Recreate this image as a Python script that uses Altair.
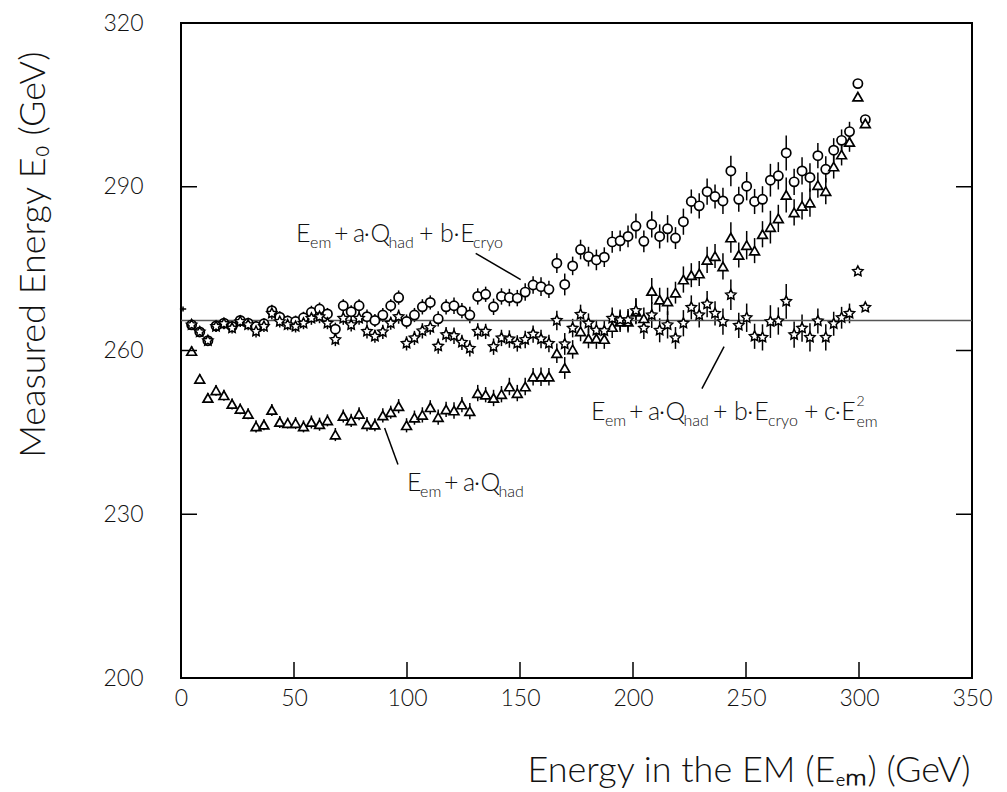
import altair as alt
import pandas as pd

# ---------------- data ----------------
energy = [4.7, 8.3, 11.9, 15.5, 19.0, 22.6, 26.2, 29.7, 33.2, 36.7,
          40.2, 43.7, 47.2, 50.7, 54.2, 57.7, 61.3, 64.8, 68.3, 71.8,
          75.3, 78.8, 82.3, 85.8, 89.3, 92.8, 96.3, 99.8, 103.3, 106.8,
          110.3, 113.8, 117.3, 120.8, 124.3, 127.8, 131.3, 134.8, 138.3, 141.8,
          145.3, 148.8, 152.3, 155.8, 159.3, 162.8, 166.3, 169.8, 173.3, 176.8,
          180.3, 183.8, 187.3, 190.8, 194.3, 197.8, 201.3, 204.8, 208.3, 211.8,
          215.3, 218.8, 222.3, 225.8, 229.3, 232.8, 236.3, 239.8, 243.3, 246.8,
          250.3, 253.8, 257.3, 260.8, 264.3, 267.8, 271.3, 274.8, 278.3, 281.8,
          285.3, 288.8, 292.3, 295.8, 299.5, 302.8]

# E_em + a.Q_had + b.E_cryo  (circles)
e_circle = [264.7, 263.4, 261.8, 264.5, 265.0, 264.4, 265.5, 265.0, 264.4, 264.9,
            267.3, 266.1, 265.4, 265.3, 266.0, 267.0, 267.6, 266.7, 263.9, 268.2,
            267.1, 268.2, 266.2, 265.5, 266.5, 268.2, 269.7, 265.3, 266.5, 268.0,
            268.8, 265.8, 268.0, 268.2, 267.3, 266.5, 269.9, 270.3, 268.0, 269.9,
            269.7, 269.6, 270.7, 272.0, 271.7, 271.2, 276.0, 272.1, 275.5, 278.5,
            277.2, 276.6, 277.1, 279.9, 280.1, 280.9, 282.8, 280.0, 283.1, 280.9,
            282.3, 280.6, 283.6, 287.3, 286.5, 289.1, 288.2, 287.4, 292.9, 287.7,
            290.1, 287.3, 287.7, 291.2, 292.0, 296.2, 290.9, 292.9, 291.7, 295.7,
            293.2, 296.7, 298.5, 300.1, 308.9, 302.3]

# E_em + a.Q_had  (triangles)
e_triangle = [259.9, 254.8, 251.3, 252.7, 251.8, 250.2, 249.3, 248.4, 246.1, 246.4,
              249.1, 246.9, 246.7, 246.7, 246.1, 246.9, 246.5, 247.2, 244.6, 248.0,
              247.2, 248.4, 246.5, 246.4, 248.1, 248.7, 249.8, 246.3, 247.7, 248.2,
              249.6, 247.8, 249.2, 249.0, 250.1, 248.9, 252.2, 251.9, 251.3, 252.0,
              253.4, 252.2, 253.4, 255.2, 255.2, 255.2, 259.5, 256.8, 260.2, 263.5,
              262.2, 262.2, 262.1, 264.3, 265.3, 265.3, 267.1, 265.9, 270.9, 269.3,
              269.0, 270.6, 273.0, 273.8, 274.1, 276.6, 277.3, 275.4, 280.7, 277.5,
              279.3, 278.3, 281.3, 282.6, 284.2, 288.5, 285.3, 286.5, 287.1, 290.3,
              289.2, 293.7, 295.9, 298.2, 306.5, 301.6]

# E_em + a.Q_had + b.E_cryo + c.E_em^2  (stars)
e_star = [264.7, 263.4, 261.8, 264.4, 264.9, 264.1, 265.3, 264.7, 263.5, 264.4,
          266.8, 265.3, 264.7, 264.4, 265.0, 265.9, 266.2, 265.0, 262.0, 265.9,
          264.7, 265.9, 263.5, 262.6, 263.4, 265.0, 266.2, 261.3, 262.3, 263.6,
          264.2, 260.8, 262.9, 262.7, 261.5, 260.4, 263.5, 263.5, 260.7, 262.3,
          262.1, 261.3, 262.0, 263.0, 262.1, 261.3, 265.5, 261.2, 264.1, 266.6,
          265.0, 263.7, 263.6, 265.9, 265.6, 265.6, 267.3, 264.1, 266.5, 263.7,
          264.7, 262.3, 265.0, 267.9, 266.5, 268.5, 266.8, 265.3, 270.2, 264.6,
          266.0, 262.6, 262.4, 265.3, 265.4, 269.0, 262.9, 264.1, 262.4, 265.4,
          262.4, 264.9, 266.0, 266.8, 274.5, 267.9]

# half length of the vertical error bars (GeV)
err = [0.9, 0.9, 0.9, 1.0, 1.0, 1.0, 1.0, 1.0, 1.1, 1.0,
       1.1, 1.1, 1.0, 1.1, 1.1, 1.2, 1.2, 1.1, 1.2, 1.2,
       1.2, 1.2, 1.3, 1.2, 1.3, 1.2, 1.3, 1.3, 1.3, 1.4,
       1.3, 1.4, 1.4, 1.5, 1.4, 1.5, 1.5, 1.4, 1.5, 1.5,
       1.6, 1.5, 1.6, 1.6, 1.7, 1.6, 1.8, 2.0, 1.7, 1.8,
       1.8, 1.9, 1.8, 2.0, 1.9, 2.0, 2.3, 2.0, 2.4, 2.2,
       2.5, 2.0, 2.4, 2.2, 2.3, 2.4, 2.2, 2.4, 2.8, 2.3,
       2.6, 2.3, 2.4, 3.0, 2.5, 3.2, 2.4, 2.5, 2.6, 2.3,
       2.4, 2.2, 2.0, 1.8, 0.3, 0.3]

first_point_x = [0.9]
first_point_y = [267.6]

reference_energy = [265.5]

x_ticks = [0, 50, 100, 150, 200, 250, 300, 350]
y_ticks = [200, 230, 260, 290, 320]

# annotation pieces: text, x (GeV), baseline y (GeV), kind
ann_text = ["E", "em", "+", "a", "·", "Q", "had", "+", "b", "·", "E", "cryo",
            "E", "em", "+", "a", "·", "Q", "had",
            "E", "em", "+", "a", "·", "Q", "had", "+", "b", "·", "E", "cryo",
            "+", "c", "·", "E", "2", "em"]
ann_x = [50.9, 57.1, 67.7, 76.1, 80.9, 83.8, 91.8, 105.3, 114.6, 120.6, 123.6, 129.2,
         100.0, 105.8, 116.4, 124.8, 129.6, 132.5, 140.5,
         181.4, 187.6, 198.2, 206.6, 211.5, 214.4, 222.3, 235.4, 244.7, 250.6, 253.7, 259.7,
         275.7, 284.5, 289.3, 292.2, 298.9, 298.9]
ann_y = [279.9, 278.8, 279.9, 279.9, 279.9, 279.9, 278.8, 279.9, 279.9, 279.9, 279.9, 278.8,
         234.2, 233.1, 234.2, 234.2, 234.2, 234.2, 233.1,
         247.2, 246.1, 247.2, 247.2, 247.2, 247.2, 246.1, 247.2, 247.2, 247.2, 247.2, 246.1,
         247.2, 247.2, 247.2, 247.2, 249.8, 246.0]
ann_kind = ["main", "sub", "main", "main", "main", "main", "sub", "main", "main", "main", "main", "sub",
            "main", "sub", "main", "main", "main", "main", "sub",
            "main", "sub", "main", "main", "main", "main", "sub", "main", "main", "main", "main", "sub",
            "main", "main", "main", "main", "sup", "sub"]

# leader lines (GeV)
lead_x1 = [130.4, 230.5, 90.1]
lead_y1 = [277.8, 253.0, 245.8]
lead_x2 = [150.3, 240.3, 96.0]
lead_y2 = [273.0, 260.7, 239.1]

# ---------------- chart ----------------
FONT = "Lato"
W, H = 791, 655
TICK = 16

xs = alt.Scale(domain=[0, 350], nice=False, zero=False)
ys = alt.Scale(domain=[200, 320], nice=False, zero=False)

xaxis = alt.Axis(values=x_ticks, ticks=False, tickSize=0, domain=False, grid=False,
                 labelFont=FONT, labelFontSize=23, labelFontWeight=300, labelColor="#111",
                 labelPadding=9, labelFlush=False,
                 title="Energy in the EM (Eₑₘ) (GeV)", titleFont=FONT, titleFontSize=36,
                 titleFontWeight=300, titleColor="#111",
                 titleX=789, titleY=103, titleAlign="right", titleBaseline="alphabetic")
yaxis = alt.Axis(values=y_ticks, ticks=False, tickSize=0, domain=False, grid=False,
                 labelFont=FONT, labelFontSize=23, labelFontWeight=300, labelColor="#111",
                 labelPadding=38, labelFlush=False,
                 title="Measured Energy E₀  (GeV)", titleFont=FONT, titleFontSize=36,
                 titleFontWeight=300, titleColor="#111",
                 titleAngle=270, titleX=-148, titleY=28, titleAlign="right",
                 titleBaseline="middle")

series = []
for name, vals in [("circle", e_circle), ("triangle", e_triangle), ("star", e_star)]:
    for xv, yv, ev in zip(energy, vals, err):
        series.append({"series": name, "E": xv, "val": yv, "lo": yv - ev, "hi": yv + ev})
df = pd.DataFrame(series)

bars = alt.Chart(df).mark_rule(color="black", strokeWidth=1.5).encode(
    x=alt.X("E:Q", scale=xs, axis=xaxis),
    y=alt.Y("lo:Q", scale=ys, axis=yaxis),
    y2="hi:Q",
)

hline = alt.Chart(pd.DataFrame({"val": reference_energy})).mark_rule(
    color="#555", strokeWidth=1.5).encode(y=alt.Y("val:Q", scale=ys, axis=yaxis))

STAR = ("M0,-1L0.294,-0.405L0.951,-0.309L0.476,0.155L0.588,0.809L0,0.5"
        "L-0.588,0.809L-0.476,0.155L-0.951,-0.309L-0.294,-0.405Z")


def sym(name, shape, size, sw):
    return alt.Chart(df[df.series == name]).mark_point(
        shape=shape, size=size, fill="white", fillOpacity=1, stroke="black",
        strokeWidth=sw, opacity=1).encode(
        x=alt.X("E:Q", scale=xs, axis=xaxis),
        y=alt.Y("val:Q", scale=ys, axis=yaxis))


circles = sym("circle", "circle", 85, 1.7)
triangles = sym("triangle", "triangle-up", 95, 1.7)
stars = sym("star", STAR, 115, 1.5)

first = alt.Chart(pd.DataFrame({"E": first_point_x, "val": first_point_y})).mark_point(
    shape="M-1,0L1,0M0,-0.8L0,0.8", size=40, stroke="black", strokeWidth=1.5,
    filled=False, opacity=1).encode(
    x=alt.X("E:Q", scale=xs, axis=xaxis), y=alt.Y("val:Q", scale=ys, axis=yaxis))

ticks_df_y = pd.DataFrame({"val": y_ticks})
ticks_df_x = pd.DataFrame({"E": x_ticks})
left_ticks = alt.Chart(ticks_df_y).mark_rule(color="black", strokeWidth=1.5).encode(
    y=alt.Y("val:Q", scale=ys, axis=yaxis), x=alt.value(0), x2=alt.value(TICK))
right_ticks = alt.Chart(ticks_df_y).mark_rule(color="black", strokeWidth=1.5).encode(
    y=alt.Y("val:Q", scale=ys, axis=yaxis), x=alt.value(W - TICK), x2=alt.value(W))
bottom_ticks = alt.Chart(ticks_df_x).mark_rule(color="black", strokeWidth=1.5).encode(
    x=alt.X("E:Q", scale=xs, axis=xaxis), y=alt.value(H - TICK), y2=alt.value(H))

ann = pd.DataFrame({"t": ann_text, "E": ann_x, "val": ann_y, "kind": ann_kind})
ann["fs"] = ann["kind"].map({"main": 25, "sub": 16, "sup": 14})
labels = alt.Chart(ann).mark_text(align="left", baseline="alphabetic", font=FONT,
                                  fontWeight=300, color="#111").encode(
    x=alt.X("E:Q", scale=xs, axis=xaxis),
    y=alt.Y("val:Q", scale=ys, axis=yaxis),
    text="t:N",
    size=alt.Size("fs:Q", scale=None, legend=None),
)

leads = alt.Chart(pd.DataFrame({"E": lead_x1, "val": lead_y1, "E2": lead_x2, "val2": lead_y2})
                  ).mark_rule(color="black", strokeWidth=1.5).encode(
    x=alt.X("E:Q", scale=xs, axis=xaxis), y=alt.Y("val:Q", scale=ys, axis=yaxis),
    x2="E2:Q", y2="val2:Q")

chart = alt.layer(
    bars, hline, circles, triangles, stars, first,
    left_ticks, right_ticks, bottom_ticks, labels, leads
).properties(
    width=W, height=H,
    autosize=alt.AutoSizeParams(type="none"),
    padding={"left": 173, "top": 15, "right": 27, "bottom": 114},
    background="white",
).configure_view(stroke="black", strokeWidth=2)

chart.save("out.html", embed_options={"renderer": "svg", "actions": False})
